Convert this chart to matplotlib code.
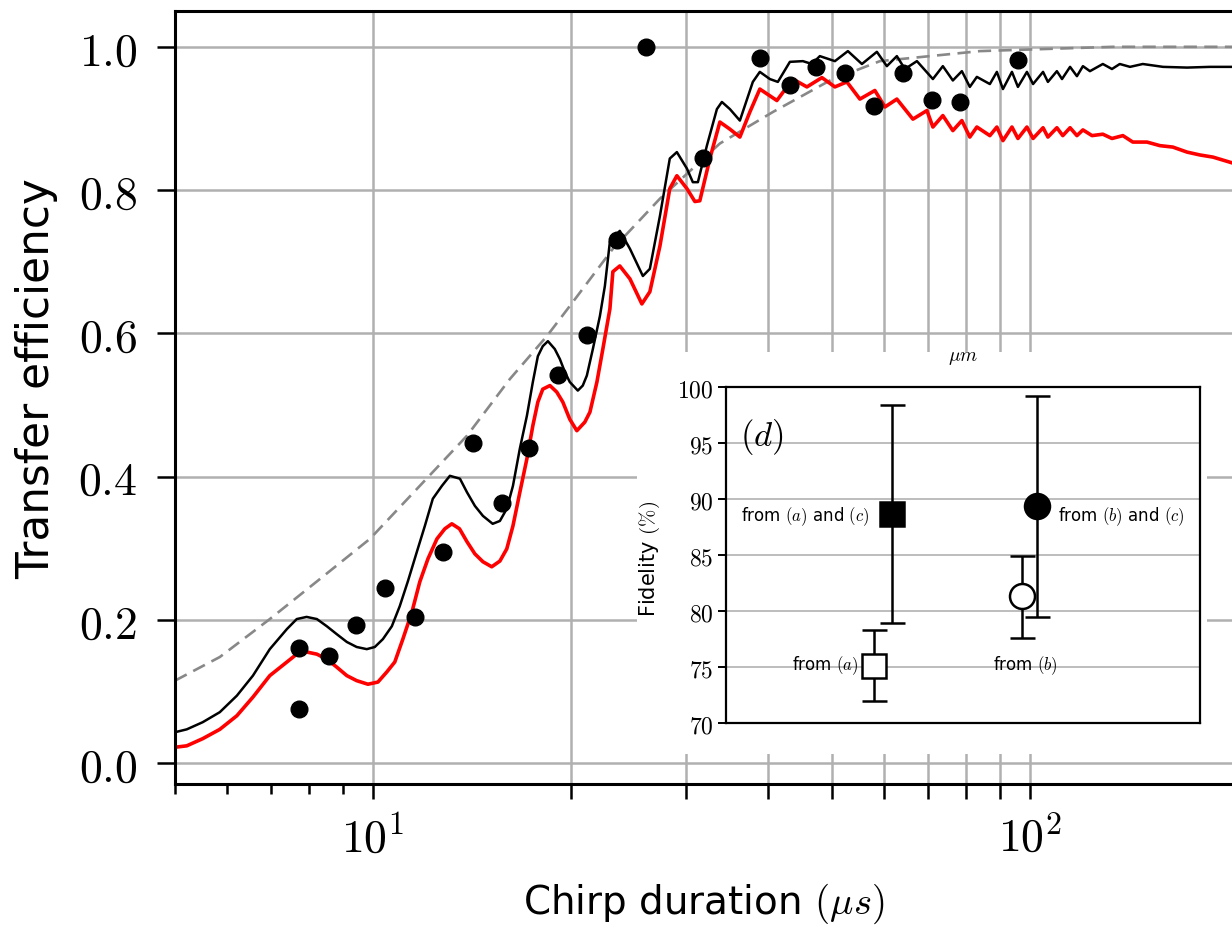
import math
import matplotlib
matplotlib.use("Agg")
import matplotlib.pyplot as plt
from matplotlib.patches import Rectangle
from matplotlib.ticker import FixedLocator, FuncFormatter, NullFormatter

plt.rcParams['mathtext.fontset'] = 'cm'
plt.rcParams['font.family'] = ['DejaVu Sans']

# simulated transfer efficiency (black)
sim_t = [5.00, 5.21, 5.51, 5.85, 6.21, 6.57, 6.97, 7.40, 7.66, 7.93, 8.22, 8.51, 8.81, 9.13,
         9.45, 9.79, 10.07, 10.36, 10.69, 10.99, 11.31, 11.67, 12.00, 12.34, 12.74, 13.10,
         13.57, 13.91, 14.30, 14.71, 15.22, 15.61, 15.99, 16.34, 16.74, 17.16, 17.52, 17.83,
         18.14, 18.47, 18.92, 19.26, 19.60, 19.94, 20.51, 20.87, 21.17, 21.62, 22.16, 22.55,
         22.95, 23.76, 24.62, 25.76, 26.40, 27.35, 28.31, 29.02, 30.06, 30.69,
         31.24, 32.24, 33.39, 33.98, 34.95, 36.19, 37.87, 38.81, 40.20, 41.34, 43.12, 45.13,
         46.58, 47.89, 50.49, 52.84, 55.50, 58.49, 60.57, 62.73, 64.52, 67.30, 71.17, 73.70,
         76.33, 78.78, 81.01, 83.03, 86.90, 89.06, 90.97, 93.89, 95.88, 98.95, 101.1, 104.7,
         106.5, 109.9, 111.9, 115.1, 117.9, 120.4, 123.4, 129.1, 133.3, 137.0, 142.0, 148.5,
         159.4, 173.4, 187.9, 203.0]
sim_eff = [0.043, 0.047, 0.057, 0.071, 0.094, 0.122, 0.159, 0.187, 0.201, 0.204, 0.201, 0.191,
           0.180, 0.169, 0.162, 0.159, 0.162, 0.173, 0.191, 0.219, 0.254, 0.295, 0.331, 0.369,
           0.387, 0.401, 0.397, 0.378, 0.359, 0.345, 0.334, 0.338, 0.355, 0.387, 0.439, 0.485,
           0.532, 0.568, 0.582, 0.589, 0.578, 0.564, 0.546, 0.532, 0.520, 0.527, 0.541, 0.578,
           0.624, 0.666, 0.728, 0.743, 0.718, 0.680, 0.690, 0.764, 0.844, 0.853, 0.830,
           0.811, 0.811, 0.862, 0.913, 0.923, 0.913, 0.897, 0.951, 0.965, 0.955, 0.951, 0.979,
           0.980, 0.976, 0.987, 0.980, 0.994, 0.976, 0.993, 0.973, 0.987, 0.969, 0.980, 0.955,
           0.973, 0.953, 0.966, 0.944, 0.958, 0.948, 0.965, 0.941, 0.965, 0.944, 0.965, 0.948,
           0.965, 0.951, 0.966, 0.955, 0.972, 0.959, 0.973, 0.966, 0.976, 0.969, 0.976, 0.972,
           0.976, 0.972, 0.971, 0.972, 0.972]

# simulation including losses (red)
loss_t = [5.00, 5.21, 5.51, 5.85, 6.21, 6.57, 6.97, 7.40, 7.66, 7.93, 8.22, 8.51, 8.81, 9.13,
          9.45, 9.83, 10.18, 10.50, 10.80, 11.11, 11.47, 11.79, 12.13, 12.52, 12.87, 13.19,
          13.55, 13.91, 14.30, 14.71, 15.17, 15.61, 15.99, 16.34, 16.74, 17.16, 17.52, 17.83,
          18.14, 18.60, 19.05, 19.46, 19.94, 20.44, 21.02, 21.40, 21.93, 22.39, 22.95, 23.19,
          23.76, 24.62, 25.67, 26.40, 27.35, 28.31, 29.02, 30.06, 30.91, 31.45,
          32.58, 33.74, 34.95, 36.19, 37.48, 38.81, 41.20, 43.57, 45.77, 48.24, 50.49, 52.65,
          55.11, 58.08, 60.17, 62.73, 66.36, 69.70, 71.17, 73.70, 76.33, 78.78, 81.01, 83.03,
          86.90, 89.06, 90.97, 93.89, 95.88, 98.95, 101.1, 104.7, 106.5, 109.9, 112.2, 115.1,
          117.9, 120.4, 124.3, 129.1, 133.3, 138.5, 143.4, 150.7, 157.7, 165.0, 173.4, 181.4,
          189.9, 203.0]
loss_eff = [0.022, 0.024, 0.034, 0.047, 0.066, 0.092, 0.122, 0.141, 0.152, 0.155, 0.152, 0.145,
            0.134, 0.122, 0.115, 0.110, 0.113, 0.127, 0.141, 0.173, 0.211, 0.253, 0.285, 0.313,
            0.327, 0.334, 0.327, 0.309, 0.292, 0.281, 0.274, 0.282, 0.299, 0.331, 0.378, 0.425,
            0.471, 0.504, 0.522, 0.527, 0.518, 0.504, 0.480, 0.464, 0.476, 0.490, 0.532, 0.578,
            0.634, 0.686, 0.694, 0.676, 0.641, 0.658, 0.722, 0.802, 0.820, 0.802, 0.784,
            0.785, 0.844, 0.895, 0.885, 0.874, 0.909, 0.941, 0.925, 0.955, 0.944, 0.957, 0.944,
            0.951, 0.927, 0.939, 0.916, 0.927, 0.899, 0.911, 0.888, 0.904, 0.883, 0.897, 0.874,
            0.888, 0.876, 0.888, 0.869, 0.888, 0.872, 0.888, 0.872, 0.887, 0.874, 0.887, 0.876,
            0.887, 0.876, 0.884, 0.876, 0.878, 0.872, 0.876, 0.867, 0.867, 0.862, 0.860, 0.853,
            0.849, 0.846, 0.838]

# adiabatic limit, dashed
lz_t = [5.00, 5.85, 6.97, 8.31, 9.90, 11.79, 13.91, 16.16, 18.40, 19.94, 23.19, 27.35, 33.74,
        40.63, 49.63, 59.11, 83.93, 133.8, 203.0]
lz_eff = [0.115, 0.148, 0.201, 0.257, 0.313, 0.387, 0.457, 0.536, 0.596, 0.638, 0.718, 0.788,
          0.865, 0.909, 0.953, 0.980, 0.994, 1.0, 1.0]

# measured points
meas_t = [7.71, 7.71, 8.57, 9.42, 10.43, 11.58, 12.78, 14.19, 15.71, 17.27, 19.12, 21.17,
          23.5, 26.03, 31.77, 38.8, 43.1, 47.2, 52.3, 58.0, 64.1, 71.0, 78.2, 95.9]
meas_eff = [0.161, 0.075, 0.149, 0.193, 0.244, 0.204, 0.295, 0.447, 0.363, 0.44, 0.542, 0.598,
            0.73, 1.0, 0.845, 0.985, 0.946, 0.972, 0.964, 0.918, 0.964, 0.926, 0.923, 0.982]

# inset (d): fidelity estimates
fid_pos = [0.312, 0.350, 0.624, 0.656]
fid_val = [75.1, 88.66, 81.3, 89.4]
fid_lo = [72.0, 78.9, 77.6, 79.5]
fid_hi = [78.3, 98.4, 84.9, 99.2]
fid_marker = ['s', 's', 'o', 'o']
fid_face = ['white', 'black', 'white', 'black']
fid_size = [17, 17, 18, 18]

fig = plt.figure(figsize=(12.32, 9.29), dpi=100)
ax = fig.add_axes([175 / 1232, 144 / 929, 1 - 175 / 1232, 773 / 929])

ax.plot(lz_t, lz_eff, '--', color='#888888', lw=1.9, dashes=(5, 2.8))
ax.plot(loss_t, loss_eff, '-', color='red', lw=2.6)
ax.plot(sim_t, sim_eff, '-', color='black', lw=1.8)
ax.plot(meas_t, meas_eff, 'o', color='black', ms=12)

ax.set_xscale('log')
ax.set_xlim(5, 203)
ax.set_ylim(-0.0293, 1.050)

ax.xaxis.set_major_locator(FixedLocator([10, 20, 30, 40, 50, 60, 70, 80, 90, 100]))
ax.xaxis.set_major_formatter(FuncFormatter(
    lambda v, p: r"$10^{%d}$" % round(math.log10(v)) if v in (10, 100) else ""))
ax.xaxis.set_minor_locator(FixedLocator([5, 6, 7, 8, 9]))
ax.xaxis.set_minor_formatter(NullFormatter())
ax.set_yticks([0.0, 0.2, 0.4, 0.6, 0.8, 1.0])
ax.yaxis.set_major_formatter(FuncFormatter(lambda v, p: r"$%.1f$" % v))

ax.tick_params(axis='both', which='major', labelsize=33, length=13, width=1.8)
ax.tick_params(axis='y', which='major', pad=14)
ax.tick_params(axis='x', which='major', length=11, pad=12)
ax.tick_params(axis='x', which='minor', length=7, width=1.8)
ax.grid(True, which='major', color='#b0b0b0', lw=1.8)
ax.set_axisbelow(True)
for side in ['left', 'bottom', 'top']:
    ax.spines[side].set_linewidth(2.2)
ax.spines['right'].set_visible(False)

ax.set_xlabel(r"Chirp duration $(\mu s)$", fontsize=28, labelpad=14)
ax.set_ylabel("Transfer efficiency", fontsize=31.5)
# label anchor is the right edge of the rotated text
ax.yaxis.set_label_coords((58 - 175) / 1057, (785 - 379) / 773)

# white backing of the inset panel
fig.patches.append(Rectangle((637 / 1232, 1 - 755 / 929), 570 / 1232, 402 / 929,
                             transform=fig.transFigure, facecolor='white',
                             edgecolor='none', zorder=1))
fig.text(963 / 1232, 1 - 358 / 929, r"$\mu m$", fontsize=14, ha='center', va='center',
         zorder=3)

ins = fig.add_axes([726 / 1232, 1 - 724 / 929, 474 / 1232, 336 / 929], zorder=2)
for i in range(4):
    ins.errorbar([fid_pos[i]], [fid_val[i]],
                 yerr=[[fid_val[i] - fid_lo[i]], [fid_hi[i] - fid_val[i]]],
                 fmt=fid_marker[i], color='black', mfc=fid_face[i], mec='black', mew=1.8,
                 ms=fid_size[i], capsize=9, capthick=1.8, elinewidth=1.8, zorder=3)
ins.set_xlim(0, 1)
ins.set_ylim(70, 100)
ins.set_xticks([])
ins.set_yticks([70, 75, 80, 85, 90, 95, 100])
ins.yaxis.set_major_formatter(FuncFormatter(lambda v, p: r"$%d$" % v))
ins.tick_params(axis='y', labelsize=17, length=6, width=1.4, pad=3)
ins.grid(True, axis='y', color='#b8b8b8', lw=1.3)
ins.set_axisbelow(True)
for s in ins.spines.values():
    s.set_linewidth(1.6)
ins.set_ylabel(r"Fidelity $(\%)$", fontsize=15)
ins.yaxis.set_label_coords((662 - 726) / 474, (724 - 559) / 336)

ins.text(0.03, 95.6, r"$(d)$", fontsize=25, ha='left', va='center')
ins.text(0.302, 88.5, r"from $(a)$ and $(c)$", fontsize=12, ha='right', va='center')
ins.text(0.280, 75.2, r"from $(a)$", fontsize=12, ha='right', va='center')
ins.text(0.700, 88.5, r"from $(b)$ and $(c)$", fontsize=12, ha='left', va='center')
ins.text(0.632, 75.2, r"from $(b)$", fontsize=12, ha='center', va='center')

fig.savefig("out.png", dpi=100)
